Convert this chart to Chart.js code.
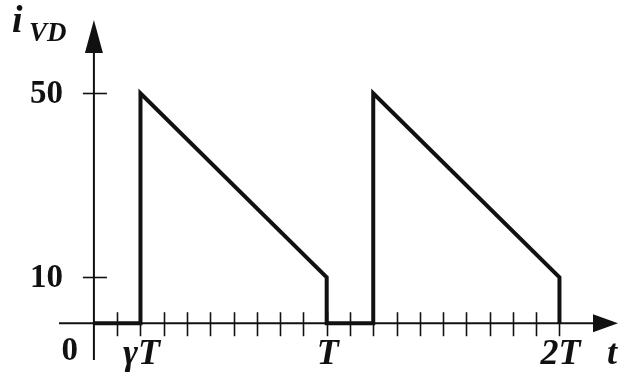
<!DOCTYPE html>
<html>
<head>
<meta charset="utf-8">
<script src="https://cdn.jsdelivr.net/npm/chart.js@4.4.1/dist/chart.umd.min.js"></script>
<style>
  body { margin: 0; background: #fff; }
  #wrap { width: 619px; height: 379px; }
</style>
</head>
<body>
<div id="wrap"><canvas id="grafico" width="619" height="379"></canvas></div>
<script>
// forma de onda i_VD (x em unidades de T/10)
const tempo = [0, 2, 2, 10, 10, 12, 12, 20, 20];
const corrente = [0, 0, 50, 10, 0, 0, 50, 10, 0];

// marcas e rótulos dos eixos
const xTicks = [1, 2, 3, 4, 5, 6, 7, 8, 9, 10, 11, 12, 13, 14, 15, 16, 17, 18, 19, 20];
const xLabelValues = [2, 10, 20];
const xLabelTexts = ['γT', 'T', '2T'];
const yLabelValues = [50, 10];
const yLabelTexts = ['50', '10'];

const serif = '"Liberation Serif", "DejaVu Serif", serif';

// desenha eixos, setas, marcas e textos a partir das escalas
const eixos = {
    id: 'eixos',
    beforeDatasetsDraw(chart) {
        const ctx = chart.ctx;
        const x = chart.scales.x, y = chart.scales.y;
        const x0 = x.getPixelForValue(0), y0 = y.getPixelForValue(0);
        ctx.save();
        ctx.strokeStyle = '#111';
        ctx.fillStyle = '#111';
        ctx.lineWidth = 2;

        // eixo x
        ctx.beginPath();
        ctx.moveTo(x.left, y0);
        ctx.lineTo(x.right - 14, y0);
        ctx.stroke();
        ctx.beginPath();
        ctx.moveTo(x.right + 5, y0);
        ctx.lineTo(x.right - 20, y0 - 9);
        ctx.lineTo(x.right - 20, y0 + 9);
        ctx.closePath();
        ctx.fill();

        // eixo y
        ctx.beginPath();
        ctx.moveTo(x0, y.bottom);
        ctx.lineTo(x0, y.top + 20);
        ctx.stroke();
        ctx.beginPath();
        ctx.moveTo(x0, y.top - 9);
        ctx.lineTo(x0 - 9, y.top + 24);
        ctx.lineTo(x0 + 9, y.top + 24);
        ctx.closePath();
        ctx.fill();

        // marcas
        ctx.lineWidth = 1.6;
        xTicks.forEach(v => {
            const px = Math.round(x.getPixelForValue(v)) + 0.5;
            ctx.beginPath();
            ctx.moveTo(px, y0 - 11);
            ctx.lineTo(px, y0 + 13);
            ctx.stroke();
        });
        yLabelValues.forEach(v => {
            const py = Math.round(y.getPixelForValue(v)) + 0.5;
            ctx.beginPath();
            ctx.moveTo(x0 - 11, py);
            ctx.lineTo(x0 + 13, py);
            ctx.stroke();
        });
        ctx.restore();
    },
    afterDraw(chart) {
        const ctx = chart.ctx;
        const x = chart.scales.x, y = chart.scales.y;
        const x0 = x.getPixelForValue(0), y0 = y.getPixelForValue(0);
        ctx.save();
        ctx.fillStyle = '#111';
        ctx.textBaseline = 'middle';

        // rótulos do eixo y
        ctx.font = 'bold 33px ' + serif;
        ctx.textAlign = 'right';
        yLabelValues.forEach((v, i) => {
            ctx.fillText(yLabelTexts[i], x0 - 31, y.getPixelForValue(v) + 1);
        });
        ctx.fillText('0', x0 - 16, y0 + 28);

        // rótulos do eixo x
        ctx.font = 'italic bold 36px ' + serif;
        ctx.textAlign = 'center';
        xLabelValues.forEach((v, i) => {
            ctx.fillText(xLabelTexts[i], x.getPixelForValue(v) + 1, y0 + 31);
        });
        ctx.fillText('t', x.right - 1, y0 + 31);

        // nome do eixo y
        ctx.textAlign = 'left';
        ctx.font = 'italic bold 38px ' + serif;
        ctx.fillText('i', 12, 22);
        ctx.font = 'italic bold 27px ' + serif;
        ctx.fillText('VD', 29, 34);
        ctx.restore();
    }
};

new Chart(document.getElementById('grafico').getContext('2d'), {
    type: 'scatter',
    data: {
        datasets: [{
            label: 'iVD',
            data: tempo.map((t, i) => ({ x: t, y: corrente[i] })),
            showLine: true,
            borderColor: '#111',
            borderWidth: 4,
            pointRadius: 0,
            tension: 0,
            borderJoinStyle: 'miter',
            clip: false
        }]
    },
    options: {
        responsive: false,
        animation: false,
        layout: { padding: { left: 59, right: 6, top: 29, bottom: 19 } },
        scales: {
            x: { type: 'linear', min: -1.5, max: 22.3, display: false },
            y: { type: 'linear', min: -8, max: 64, display: false }
        },
        plugins: {
            legend: { display: false },
            tooltip: { enabled: false }
        }
    },
    plugins: [eixos]
});
</script>
</body>
</html>
